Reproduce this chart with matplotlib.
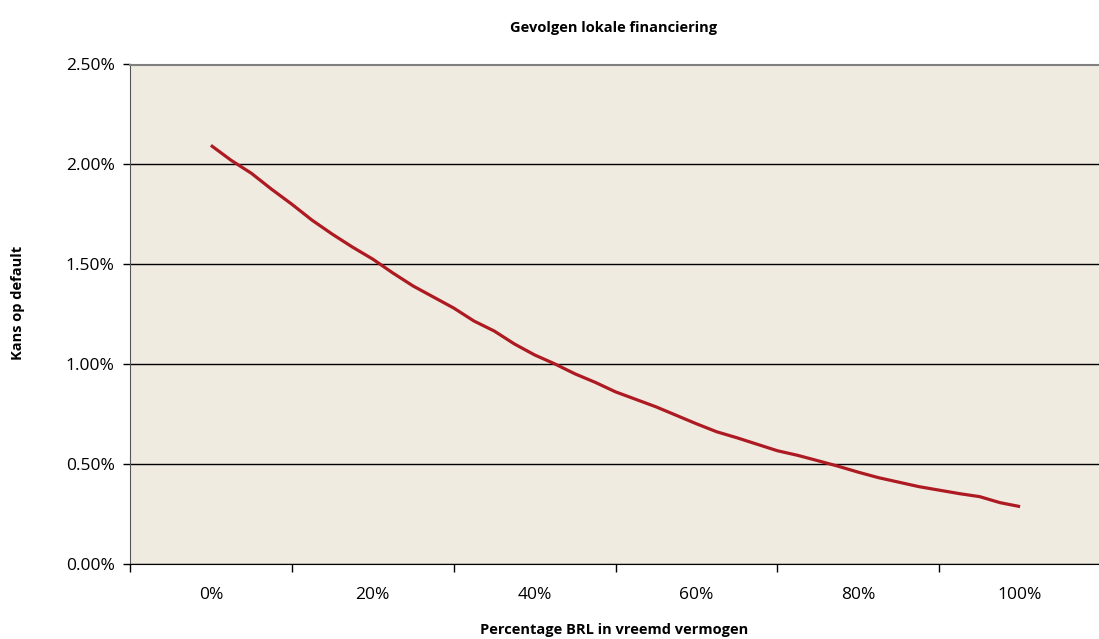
import matplotlib.pyplot as plt
import matplotlib.ticker as ticker

# Share of BRL in debt (%) and probability of default (%)
brl_share = [i * 2.5 for i in range(41)]
default_prob = [
    2.095, 2.02, 1.955, 1.875, 1.80, 1.72, 1.65, 1.585, 1.525, 1.455,
    1.39, 1.335, 1.28, 1.215, 1.165, 1.10, 1.045, 1.00, 0.95, 0.9075,
    0.86, 0.8225, 0.785, 0.7425, 0.70, 0.66, 0.63, 0.5975, 0.565, 0.542,
    0.515, 0.4875, 0.4575, 0.43, 0.4075, 0.385, 0.3675, 0.35, 0.335, 0.305,
    0.285,
]
x_labels = [0, 20, 40, 60, 80, 100]
x_tick_marks = [-10, 10, 30, 50, 70, 90]
y_ticks = [0, 0.5, 1.0, 1.5, 2.0, 2.5]

plt.rcParams['font.family'] = ['Open Sans', 'DejaVu Sans']

fig = plt.figure(figsize=(10.99, 6.39), dpi=100)
ax = fig.add_axes([130 / 1099, 1 - 563.5 / 639, 969 / 1099, 499 / 639])
ax.set_facecolor('#efebe1')

ax.plot(brl_share, default_prob, color='#ae1a22', linewidth=2.3, solid_capstyle='butt', zorder=3)

ax.set_xlim(-9.88, 109.75)
ax.set_ylim(0, 2.5)

# tick marks sit between the labels, labels have no marks
ax.set_xticks(x_tick_marks)
ax.set_xticklabels([])
ax.set_xticks(x_labels, minor=True)
ax.set_xticklabels([f'{v}%' for v in x_labels], minor=True)
ax.tick_params(axis='x', which='major', direction='out', length=6, width=1, color='black')
ax.tick_params(axis='x', which='minor', length=0, pad=17, labelsize=12.5)

ax.set_yticks(y_ticks)
ax.yaxis.set_major_formatter(ticker.FuncFormatter(lambda v, p: f'{v:.2f}%'))
ax.tick_params(axis='y', direction='out', length=5, width=1, color='black', pad=6, labelsize=12.5)

ax.grid(axis='y', color='black', linewidth=1)
ax.grid(axis='x', visible=False)
ax.set_axisbelow(True)

ax.spines['right'].set_visible(False)
ax.spines['top'].set_color('#808080')
ax.spines['top'].set_linewidth(1.5)
ax.spines['left'].set_color('#555555')
ax.spines['bottom'].set_color('black')

fig.text(614 / 1099, 1 - 28 / 639, 'Gevolgen lokale financiering', ha='center', va='center',
         fontsize=10.5, fontweight='bold')
fig.text(18 / 1099, 1 - 303 / 639, 'Kans op default', ha='center', va='center', rotation=90,
         fontsize=10.5, fontweight='bold')
fig.text(614 / 1099, 1 - 630 / 639, 'Percentage BRL in vreemd vermogen', ha='center', va='center',
         fontsize=10.5, fontweight='bold')

fig.savefig('out.png', dpi=100)
